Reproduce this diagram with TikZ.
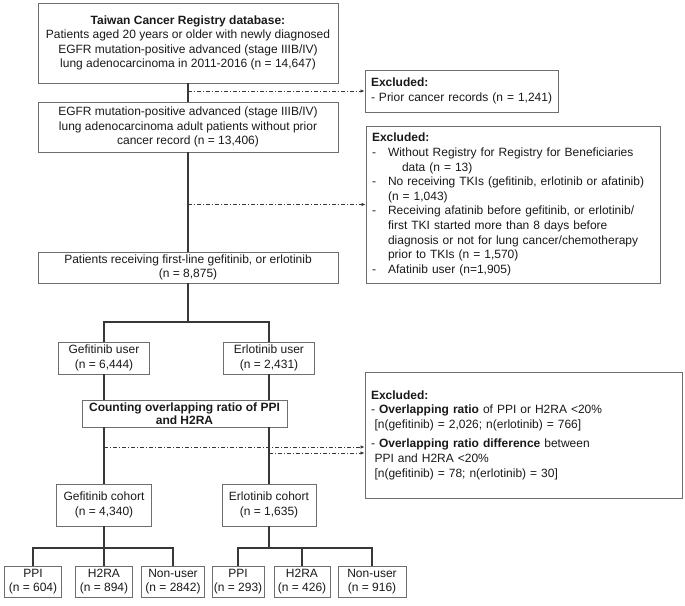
\documentclass[tikz,border=0pt]{standalone}
\usepackage{fontspec}
\setmainfont{Liberation Sans}
\usepackage{tikz}
\usetikzlibrary{arrows.meta}
\definecolor{boxgray}{RGB}{110,110,110}
\definecolor{linegray}{RGB}{55,55,55}
\definecolor{inkblack}{RGB}{25,25,25}
\tikzstyle{exarrow} = [linegray, line width=0.8pt, dash pattern=on 4pt off 2pt on 1pt off 2pt, -{Latex[length=4pt,width=3.5pt]}]
\tikzstyle{link} = [linegray, line width=1.2pt]
\newcommand{\exdash}{\makebox[16pt][l]{-}}
\newcommand{\excont}{\hspace*{16pt}}

\begin{document}
\begin{tikzpicture}[x=1pt,y=-1pt,
    box/.style={draw=boxgray, line width=0.9pt, rectangle, inner sep=0pt, align=center, text=inkblack,
        font=\fontsize{12}{14.3}\selectfont},
    exbox/.style={draw=boxgray, line width=0.9pt, rectangle, inner xsep=6pt, inner ysep=0pt, align=left, text=inkblack,
        font=\fontsize{12}{14.6}\selectfont, text width=#1-12pt}]
\useasboundingbox (0,0) rectangle (685,605);

\node[box, minimum width=300pt, minimum height=80pt] (top) at (188,43) {
    \textbf{Taiwan Cancer Registry database:}\\
    Patients aged 20 years or older with newly diagnosed\\
    EGFR mutation-positive advanced (stage IIIB/IV)\\
    lung adenocarcinoma in 2011-2016 (n = 14,647)
};

\node[exbox=193pt, minimum height=42pt] (excl1) at (461.5,91) {
    \textbf{Excluded:}\\
    \mbox{- Prior cancer records (n = 1,241)}
};

\node[box, minimum width=300pt, minimum height=50pt] (egfr) at (188,127) {
    EGFR mutation-positive advanced (stage IIIB/IV)\\
    lung adenocarcinoma adult patients without prior\\
    cancer record (n = 13,406)
};

\node[exbox=294pt, minimum height=157pt] (excl2) at (513,204.5) {
    \textbf{Excluded:}\\
    \exdash Without Registry for Registry for Beneficiaries\\
    \excont\hspace*{14pt}data (n = 13)\\
    \exdash No receiving TKIs (gefitinib, erlotinib or afatinib)\\
    \excont(n = 1,043)\\
    \exdash Receiving afatinib before gefitinib, or erlotinib/\\
    \excont first TKI started more than 8 days before\\
    \excont diagnosis or not for lung cancer/chemotherapy\\
    \excont prior to TKIs (n = 1,570)\\
    \exdash Afatinib user (n=1,905)
};

\node[box, minimum width=300pt, minimum height=31pt] (recv) at (188,267.5) {
    Patients receiving first-line gefitinib, or erlotinib\\
    (n = 8,875)
};

\node[box, minimum width=91pt, minimum height=32pt] (gefuser) at (104,358) {
    Gefitinib user\\
    (n = 6,444)
};
\node[box, minimum width=91pt, minimum height=32pt] (erluser) at (269,358) {
    Erlotinib user\\
    (n = 2,431)
};

\node[box, minimum width=205pt, minimum height=27pt, font=\fontsize{12}{13.5}\selectfont\bfseries] (counting) at (184.5,413.5) {
    Counting overlapping ratio of PPI\\
    and H2RA
};

\node[exbox=317pt, minimum height=126pt] (excl3) at (523.5,435) {
    \textbf{Excluded:}\\
    - \textbf{Overlapping ratio} of PPI or H2RA <20\%\\
    \hspace*{3.5pt}[n(gefitinib) = 2,026; n(erlotinib) = 766]\\[5pt]
    - \textbf{Overlapping ratio difference} between\\
    \hspace*{3.5pt}PPI and H2RA <20\%\\
    \hspace*{3.5pt}[n(gefitinib) = 78; n(erlotinib) = 30]
};

\node[box, minimum width=95pt, minimum height=42pt] (gefcoh) at (104,505) {
    Gefitinib cohort\\
    (n = 4,340)
};
\node[box, minimum width=94pt, minimum height=42pt] (erlcoh) at (269,505) {
    Erlotinib cohort\\
    (n = 1,635)
};

\node[box, minimum width=57pt, minimum height=31pt] (gppi) at (33,581.5) {PPI\\(n = 604)};
\node[box, minimum width=57pt, minimum height=31pt] (gh2) at (104,581.5) {H2RA\\(n = 894)};
\node[box, minimum width=63pt, minimum height=31pt] (gnon) at (173,581.5) {Non-user\\(n = 2842)};
\node[box, minimum width=52pt, minimum height=31pt] (eppi) at (238,581.5) {PPI\\(n = 293)};
\node[box, minimum width=56pt, minimum height=31pt] (eh2) at (302,581.5) {H2RA\\(n = 426)};
\node[box, minimum width=68pt, minimum height=31pt] (enon) at (372,581.5) {Non-user\\(n = 916)};

\coordinate (usersplit) at (188,322);
\coordinate (gefex) at (104,447);
\coordinate (erlex) at (269,453);
\coordinate (gefbus) at (104,548);
\coordinate (erlbus) at (269,548);

\draw[link] (top) -- (egfr);
\draw[link] (egfr) -- (recv);
\draw[link] (recv) -- (usersplit);
\draw[link] (gefuser.north) |- (usersplit) -| (erluser.north);
\draw[link] (gefuser) -- (gefuser.south |- counting.north);
\draw[link] (erluser) -- (erluser.south |- counting.north);
\draw[link] (gefcoh.north |- counting.south) -- (gefcoh);
\draw[link] (erlcoh.north |- counting.south) -- (erlcoh);
\draw[link] (gefcoh) -- (gefbus);
\draw[link] (gppi.north) |- (gefbus) -| (gnon.north);
\draw[link] (gh2) -- (gefbus);
\draw[link] (erlcoh) -- (erlbus);
\draw[link] (eppi.north) |- (erlbus) -| (enon.north);
\draw[link] (eh2) -- (eh2 |- erlbus);

\draw[exarrow] (top.south |- excl1.west) -- (excl1.west);
\draw[exarrow] (egfr.south |- excl2.west) -- (excl2.west);
\draw[exarrow] (gefex) -- (gefex -| excl3.west);
\draw[exarrow] (erlex) -- (erlex -| excl3.west);
\end{tikzpicture}
\end{document}
